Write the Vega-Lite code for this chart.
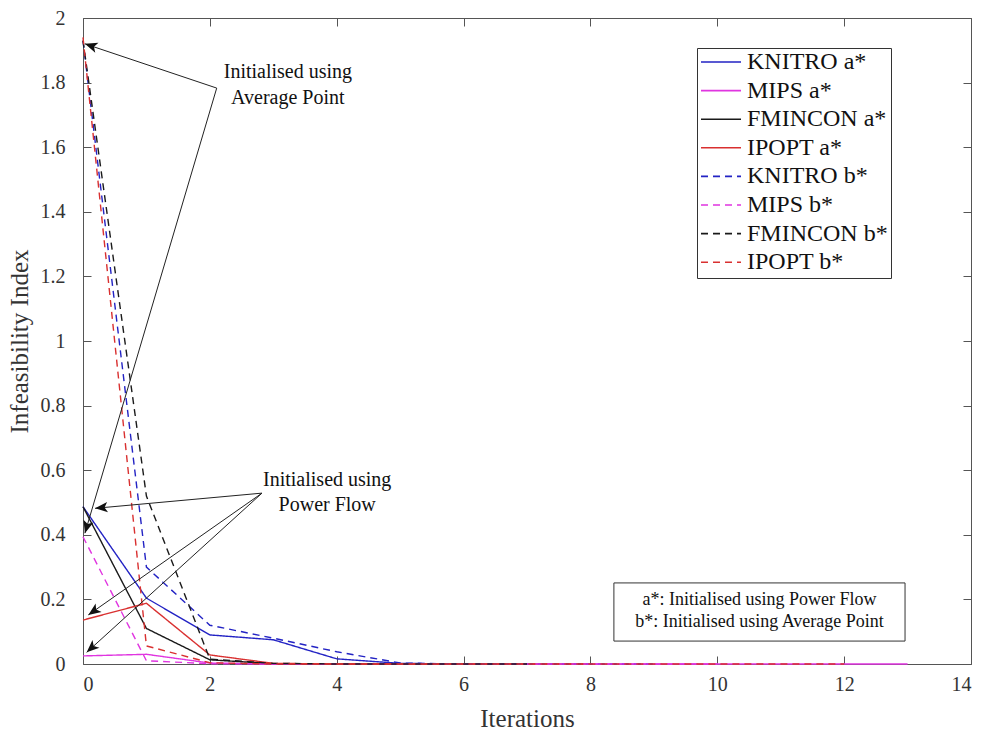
{
  "$schema": "https://vega.github.io/schema/vega-lite/v6.json",
  "width": 888,
  "height": 646,
  "autosize": "none",
  "padding": {"left": 83, "top": 18, "right": 14, "bottom": 74},
  "background": "white",
  "datasets": {
    "lines": [
      {"series": "KNITRO a*", "iter": 0, "value": 0.487},
      {"series": "KNITRO a*", "iter": 1, "value": 0.204},
      {"series": "KNITRO a*", "iter": 2, "value": 0.090},
      {"series": "KNITRO a*", "iter": 3, "value": 0.075},
      {"series": "KNITRO a*", "iter": 4, "value": 0.016},
      {"series": "KNITRO a*", "iter": 5, "value": 0.002},
      {"series": "KNITRO a*", "iter": 6, "value": 0},
      {"series": "KNITRO a*", "iter": 7, "value": 0},
      {"series": "KNITRO a*", "iter": 8, "value": 0},
      {"series": "MIPS a*", "iter": 0, "value": 0.025},
      {"series": "MIPS a*", "iter": 1, "value": 0.030},
      {"series": "MIPS a*", "iter": 2, "value": 0.003},
      {"series": "MIPS a*", "iter": 3, "value": 0},
      {"series": "MIPS a*", "iter": 4, "value": 0},
      {"series": "MIPS a*", "iter": 5, "value": 0},
      {"series": "MIPS a*", "iter": 6, "value": 0},
      {"series": "MIPS a*", "iter": 7, "value": 0},
      {"series": "MIPS a*", "iter": 8, "value": 0},
      {"series": "MIPS a*", "iter": 9, "value": 0},
      {"series": "MIPS a*", "iter": 10, "value": 0},
      {"series": "MIPS a*", "iter": 11, "value": 0},
      {"series": "MIPS a*", "iter": 12, "value": 0},
      {"series": "MIPS a*", "iter": 13, "value": 0},
      {"series": "FMINCON a*", "iter": 0, "value": 0.487},
      {"series": "FMINCON a*", "iter": 1, "value": 0.110},
      {"series": "FMINCON a*", "iter": 2, "value": 0.013},
      {"series": "FMINCON a*", "iter": 3, "value": 0.001},
      {"series": "FMINCON a*", "iter": 4, "value": 0},
      {"series": "FMINCON a*", "iter": 5, "value": 0},
      {"series": "FMINCON a*", "iter": 6, "value": 0},
      {"series": "IPOPT a*", "iter": 0, "value": 0.136},
      {"series": "IPOPT a*", "iter": 1, "value": 0.188},
      {"series": "IPOPT a*", "iter": 2, "value": 0.028},
      {"series": "IPOPT a*", "iter": 3, "value": 0.002},
      {"series": "IPOPT a*", "iter": 4, "value": 0},
      {"series": "IPOPT a*", "iter": 5, "value": 0},
      {"series": "IPOPT a*", "iter": 6, "value": 0},
      {"series": "IPOPT a*", "iter": 7, "value": 0},
      {"series": "IPOPT a*", "iter": 8, "value": 0},
      {"series": "KNITRO b*", "iter": 0, "value": 1.93},
      {"series": "KNITRO b*", "iter": 1, "value": 0.30},
      {"series": "KNITRO b*", "iter": 2, "value": 0.12},
      {"series": "KNITRO b*", "iter": 3, "value": 0.08},
      {"series": "KNITRO b*", "iter": 4, "value": 0.038},
      {"series": "KNITRO b*", "iter": 5, "value": 0.003},
      {"series": "KNITRO b*", "iter": 6, "value": 0},
      {"series": "KNITRO b*", "iter": 7, "value": 0},
      {"series": "KNITRO b*", "iter": 8, "value": 0},
      {"series": "KNITRO b*", "iter": 9, "value": 0},
      {"series": "MIPS b*", "iter": 0, "value": 0.394},
      {"series": "MIPS b*", "iter": 1, "value": 0.010},
      {"series": "MIPS b*", "iter": 2, "value": 0.001},
      {"series": "MIPS b*", "iter": 3, "value": 0},
      {"series": "MIPS b*", "iter": 4, "value": 0},
      {"series": "MIPS b*", "iter": 5, "value": 0},
      {"series": "MIPS b*", "iter": 6, "value": 0},
      {"series": "MIPS b*", "iter": 7, "value": 0},
      {"series": "MIPS b*", "iter": 8, "value": 0},
      {"series": "MIPS b*", "iter": 9, "value": 0},
      {"series": "MIPS b*", "iter": 10, "value": 0},
      {"series": "FMINCON b*", "iter": 0, "value": 1.93},
      {"series": "FMINCON b*", "iter": 1, "value": 0.52},
      {"series": "FMINCON b*", "iter": 2, "value": 0.015},
      {"series": "FMINCON b*", "iter": 3, "value": 0.002},
      {"series": "FMINCON b*", "iter": 4, "value": 0},
      {"series": "FMINCON b*", "iter": 5, "value": 0},
      {"series": "FMINCON b*", "iter": 6, "value": 0},
      {"series": "FMINCON b*", "iter": 7, "value": 0},
      {"series": "IPOPT b*", "iter": 0, "value": 1.94},
      {"series": "IPOPT b*", "iter": 1, "value": 0.056},
      {"series": "IPOPT b*", "iter": 2, "value": 0.004},
      {"series": "IPOPT b*", "iter": 3, "value": 0},
      {"series": "IPOPT b*", "iter": 4, "value": 0},
      {"series": "IPOPT b*", "iter": 5, "value": 0},
      {"series": "IPOPT b*", "iter": 6, "value": 0},
      {"series": "IPOPT b*", "iter": 7, "value": 0},
      {"series": "IPOPT b*", "iter": 8, "value": 0},
      {"series": "IPOPT b*", "iter": 9, "value": 0},
      {"series": "IPOPT b*", "iter": 10, "value": 0},
      {"series": "IPOPT b*", "iter": 11, "value": 0},
      {"series": "IPOPT b*", "iter": 12, "value": 0}
    ],
    "arrows": [
      {"id": "a1", "x": 2.108, "y": 1.783, "x2": 0.03, "y2": 1.92},
      {"id": "a2", "x": 2.108, "y": 1.783, "x2": 0.03, "y2": 0.405},
      {"id": "pa", "x": 2.822, "y": 0.529, "x2": 0.19, "y2": 0.482},
      {"id": "pb", "x": 2.822, "y": 0.529, "x2": 0.084, "y2": 0.152},
      {"id": "pc", "x": 2.822, "y": 0.529, "x2": 0.058, "y2": 0.036}
    ],
    "notes": [
      {"x": 3.23, "y": 1.833, "label": "Initialised using"},
      {"x": 3.23, "y": 1.752, "label": "Average Point"},
      {"x": 3.85, "y": 0.570, "label": "Initialised using"},
      {"x": 3.85, "y": 0.492, "label": "Power Flow"}
    ],
    "box": [
      {"x": 8.37, "x2": 12.96, "y": 0.251, "y2": 0.071}
    ],
    "boxtext": [
      {"x": 10.665, "y": 0.198, "label": "a*: Initialised using Power Flow"},
      {"x": 10.665, "y": 0.130, "label": "b*: Initialised using Average Point"}
    ]
  },
  "layer": [
    {
      "data": {"name": "lines"},
      "mark": {"type": "line", "strokeWidth": 1.4},
      "encoding": {
        "x": {"field": "iter", "type": "quantitative", "scale": {"domain": [0, 14], "nice": false},
              "axis": {"values": [0, 2, 4, 6, 8, 10, 12, 14], "title": "Iterations", "orient": "bottom", "labelPadding": 18, "titlePadding": 12}},
        "y": {"field": "value", "type": "quantitative", "scale": {"domain": [0, 2], "nice": false},
              "axis": {"values": [0, 0.2, 0.4, 0.6, 0.8, 1, 1.2, 1.4, 1.6, 1.8, 2], "format": ".1~f", "title": "Infeasibility Index", "orient": "left", "labelPadding": 26, "titlePadding": 8}},
        "color": {"field": "series", "type": "nominal",
                  "scale": {"domain": ["KNITRO a*", "MIPS a*", "FMINCON a*", "IPOPT a*", "KNITRO b*", "MIPS b*", "FMINCON b*", "IPOPT b*"],
                            "range": ["#2323c4", "#e035e0", "#1a1a1a", "#d93030", "#2323c4", "#e035e0", "#1a1a1a", "#d93030"]},
                  "legend": {"title": null, "orient": "none", "legendX": 614, "legendY": 30}},
        "strokeDash": {"field": "series", "type": "nominal",
                  "scale": {"domain": ["KNITRO a*", "MIPS a*", "FMINCON a*", "IPOPT a*", "KNITRO b*", "MIPS b*", "FMINCON b*", "IPOPT b*"],
                            "range": [[1, 0], [1, 0], [1, 0], [1, 0], [7, 5], [7, 5], [7, 5], [7, 5]]},
                  "legend": {"title": null, "orient": "none", "legendX": 614, "legendY": 30}},
        "order": {"field": "iter", "type": "quantitative"}
      }
    },
    {
      "data": {"name": "arrows"},
      "mark": {"type": "rule", "color": "#222", "strokeWidth": 1},
      "encoding": {
        "x": {"field": "x", "type": "quantitative", "axis": {"orient": "top", "labels": false, "title": null, "values": [0, 2, 4, 6, 8, 10, 12, 14]}},
        "y": {"field": "y", "type": "quantitative", "axis": {"orient": "right", "labels": false, "title": null, "values": [0, 0.2, 0.4, 0.6, 0.8, 1, 1.2, 1.4, 1.6, 1.8, 2]}},
        "x2": {"field": "x2"},
        "y2": {"field": "y2"}
      }
    },
    {
      "data": {"name": "arrows"},
      "transform": [{"filter": "datum.id === 'a1'"}],
      "mark": {"type": "point", "shape": "M0,0L-0.6,1.45L0,1.1L0.6,1.45Z", "filled": true, "color": "#111", "opacity": 1, "size": 300, "angle": 288},
      "encoding": {"x": {"field": "x2", "type": "quantitative", "axis": null}, "y": {"field": "y2", "type": "quantitative", "axis": null}}
    },
    {
      "data": {"name": "arrows"},
      "transform": [{"filter": "datum.id === 'a2'"}],
      "mark": {"type": "point", "shape": "M0,0L-0.6,1.45L0,1.1L0.6,1.45Z", "filled": true, "color": "#111", "opacity": 1, "size": 300, "angle": 196.5},
      "encoding": {"x": {"field": "x2", "type": "quantitative", "axis": null}, "y": {"field": "y2", "type": "quantitative", "axis": null}}
    },
    {
      "data": {"name": "arrows"},
      "transform": [{"filter": "datum.id === 'pa'"}],
      "mark": {"type": "point", "shape": "M0,0L-0.6,1.45L0,1.1L0.6,1.45Z", "filled": true, "color": "#111", "opacity": 1, "size": 300, "angle": 264.8},
      "encoding": {"x": {"field": "x2", "type": "quantitative", "axis": null}, "y": {"field": "y2", "type": "quantitative", "axis": null}}
    },
    {
      "data": {"name": "arrows"},
      "transform": [{"filter": "datum.id === 'pb'"}],
      "mark": {"type": "point", "shape": "M0,0L-0.6,1.45L0,1.1L0.6,1.45Z", "filled": true, "color": "#111", "opacity": 1, "size": 300, "angle": 234.9},
      "encoding": {"x": {"field": "x2", "type": "quantitative", "axis": null}, "y": {"field": "y2", "type": "quantitative", "axis": null}}
    },
    {
      "data": {"name": "arrows"},
      "transform": [{"filter": "datum.id === 'pc'"}],
      "mark": {"type": "point", "shape": "M0,0L-0.6,1.45L0,1.1L0.6,1.45Z", "filled": true, "color": "#111", "opacity": 1, "size": 300, "angle": 227.7},
      "encoding": {"x": {"field": "x2", "type": "quantitative", "axis": null}, "y": {"field": "y2", "type": "quantitative", "axis": null}}
    },
    {
      "data": {"name": "notes"},
      "mark": {"type": "text", "font": "Liberation Serif", "fontSize": 20, "color": "#111", "align": "center", "baseline": "middle"},
      "encoding": {"x": {"field": "x", "type": "quantitative", "axis": null}, "y": {"field": "y", "type": "quantitative", "axis": null}, "text": {"field": "label"}}
    },
    {
      "data": {"name": "box"},
      "mark": {"type": "rect", "fill": "white", "stroke": "#333", "strokeWidth": 1},
      "encoding": {"x": {"field": "x", "type": "quantitative", "axis": null}, "x2": {"field": "x2"}, "y": {"field": "y", "type": "quantitative", "axis": null}, "y2": {"field": "y2"}}
    },
    {
      "data": {"name": "boxtext"},
      "mark": {"type": "text", "font": "Liberation Serif", "fontSize": 18, "color": "#111", "align": "center", "baseline": "middle"},
      "encoding": {"x": {"field": "x", "type": "quantitative", "axis": null}, "y": {"field": "y", "type": "quantitative", "axis": null}, "text": {"field": "label"}}
    }
  ],
  "resolve": {"axis": {"x": "independent", "y": "independent"}},
  "config": {
    "font": "Liberation Serif",
    "view": {"stroke": "#555", "strokeWidth": 1},
    "axis": {
      "grid": false,
      "domain": false,
      "tickSize": -8,
      "tickColor": "#555",
      "labelFont": "Liberation Serif",
      "labelFontSize": 20,
      "labelColor": "#333",
      "titleFont": "Liberation Serif",
      "titleFontSize": 25,
      "titleFontWeight": "normal",
      "titleColor": "#333"
    },
    "legend": {
      "fillColor": "white",
      "strokeColor": "#333",
      "padding": 3,
      "labelFont": "Liberation Serif",
      "labelFontSize": 24,
      "labelColor": "#111",
      "symbolType": "stroke",
      "symbolSize": 1600,
      "symbolStrokeWidth": 1.6,
      "labelOffset": 5,
      "clipHeight": 22,
      "rowPadding": 4.6,
      "labelLimit": 300
    }
  }
}
